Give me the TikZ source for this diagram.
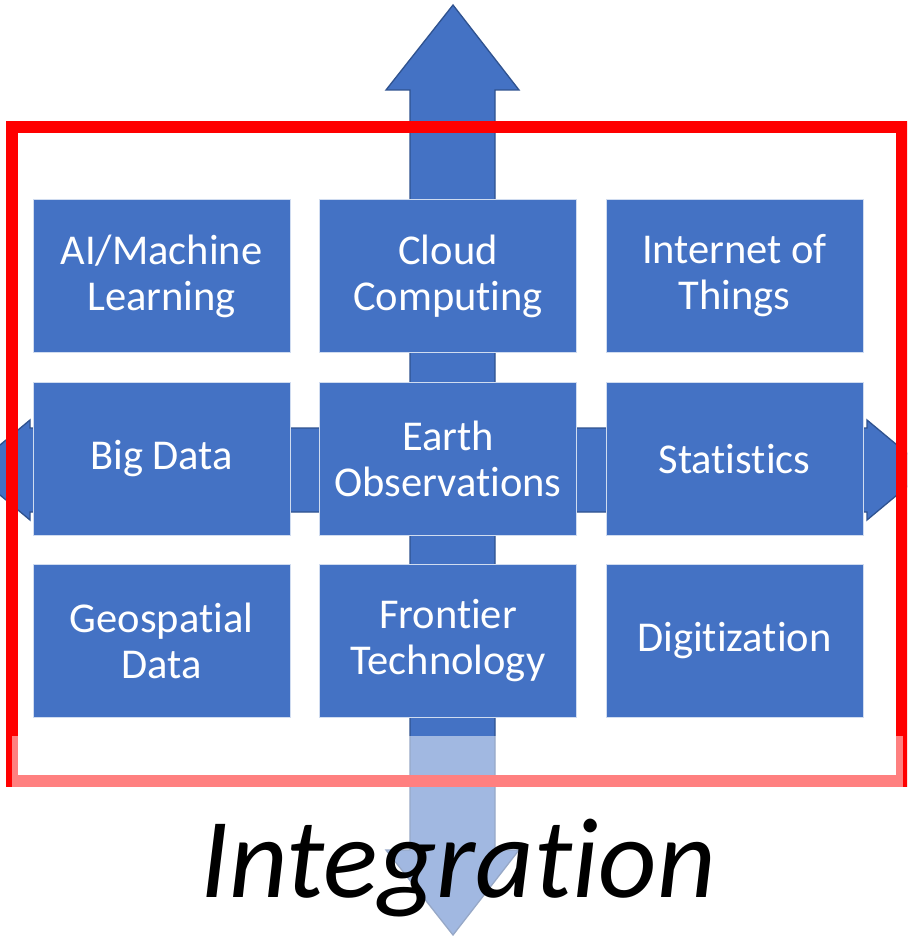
\documentclass[tikz,border=0pt]{standalone}
\usepackage{fontspec}
\setmainfont{Carlito}[RawFeature={-liga}]
\definecolor{boxblue}{HTML}{4472C4}
\definecolor{edgeblue}{HTML}{2F528F}
\definecolor{framered}{HTML}{FF0000}
\begin{document}
\begin{tikzpicture}[x=1pt,y=-1pt,
  tile/.style={rectangle,fill=boxblue,draw=white!75!boxblue,line width=0.8pt,
    minimum width=257pt,minimum height=153pt,inner sep=0pt,text=white,align=center,
    font=\fontsize{42.5}{46}\selectfont},
  bigarrow/.style={fill=boxblue,draw=edgeblue,line width=1.3pt,line join=miter}]
\useasboundingbox (0,0) rectangle (907,936);
\clip (0,0) rectangle (907,936);
\fill[white] (0,0) rectangle (907,936);
% horizontal arrow
\draw[bigarrow] (-30,470) -- (30,420) -- (30,428) -- (867,428) -- (867,420) -- (927,470)
  -- (867,520) -- (867,512) -- (30,512) -- (30,520) -- cycle;
% vertical arrow
\draw[bigarrow] (453,5) -- (519,90) -- (495,90) -- (495,850) -- (519,850) -- (453,935)
  -- (386,850) -- (410,850) -- (410,90) -- (386,90) -- cycle;
% red frame
\draw[framered,line width=12pt] (12,127) rectangle (902,781);
% tiles
\node[tile] (ai)   at (161.5,276) {AI/Machine\\Learning};
\node[tile] (cloud) at (448,276) {Cloud\\Computing};
\node[tile] (iot)  at (734.5,276) {Internet of\\Things};
\node[tile] (big)  at (161.5,459) {Big Data};
\node[tile] (earth) at (448,459) {Earth\\Observations};
\node[tile] (stat) at (734.5,459) {Statistics};
\node[tile] (geo)  at (161.5,641) {Geospatial\\Data};
\node[tile] (front) at (448,641) {Frontier\\Technology};
\node[tile] (dig)  at (734.5,641) {Digitization};
% translucent white veil at bottom
\fill[white,opacity=0.5] (12,736) rectangle (903,936);
% caption
\node[anchor=base,inner sep=0pt,font=\fontsize{114}{116}\selectfont\itshape] (integ) at (458,897) {Integration};
\end{tikzpicture}
\end{document}
